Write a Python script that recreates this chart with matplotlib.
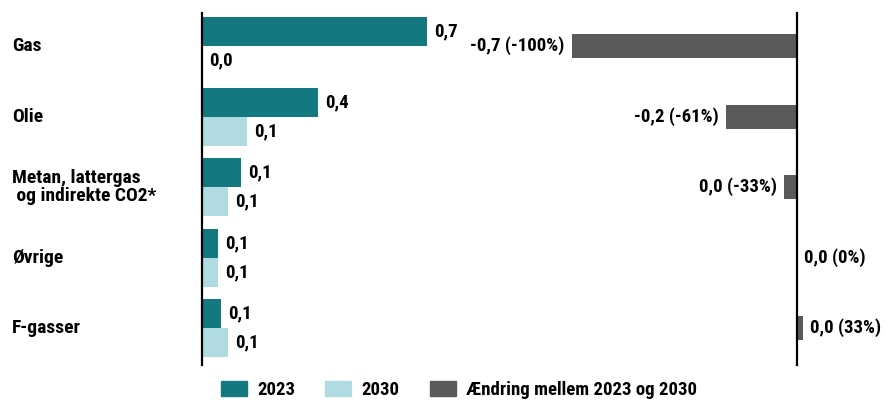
import matplotlib
matplotlib.use("Agg")
import matplotlib.pyplot as plt
from matplotlib import font_manager
from matplotlib.patches import Patch
from matplotlib.transforms import blended_transform_factory

# --- data ---
categories = ["Gas", "Olie", "Metan, lattergas\n og indirekte CO2*", "Øvrige", "F-gasser"]
values_2023 = [0.70, 0.36, 0.12, 0.05, 0.06]
values_2030 = [0.00, 0.14, 0.08, 0.05, 0.08]
legend_labels = ["2023", "2030", "Ændring mellem 2023 og 2030"]

change = [b - a for a, b in zip(values_2023, values_2030)]
change_pct = [(c / a * 100) if a else 0 for c, a in zip(change, values_2023)]

# --- style ---
available = {f.name for f in font_manager.fontManager.ttflist}
for fam in ["Roboto Condensed", "Liberation Sans Narrow", "DejaVu Sans Condensed", "Roboto"]:
    if fam in available:
        FONT = fam
        break
else:
    FONT = "DejaVu Sans"
plt.rcParams["font.family"] = [FONT, "DejaVu Sans"]
plt.rcParams["font.weight"] = "bold"

C2023 = "#137880"
C2030 = "#b0dbe0"
CCHG = "#5a5a5a"
FS = 14.0       # category labels
FSV = 13.5      # value labels

W, H = 886, 400
fig = plt.figure(figsize=(W / 100, H / 100), dpi=100)

PX = 322.0           # pixels per unit
top_px, bot_px = 13, 365
spacing = 70.5
first_c = 46
ylim = ((bot_px - first_c) / spacing, -(first_c - top_px) / spacing)


def axes_at(x0, x1):
    return fig.add_axes([x0 / W, (H - bot_px) / H, (x1 - x0) / W, (bot_px - top_px) / H])


def fmt(v):
    s = f"{round(v, 1) + 0.0:.1f}"
    if s == "-0.0":
        s = "0.0"
    return s.replace(".", ",")


# --- left panel: 2023 and 2030 ---
axL = axes_at(202, 502)
axL.set_xlim(0, 300 / PX)
axL.set_ylim(*ylim)
ypos = list(range(len(categories)))
bh = 29 / spacing
y23 = [y - bh / 2 for y in ypos]
y30 = [y + bh / 2 for y in ypos]
axL.barh(y23, values_2023, height=bh, color=C2023)
axL.barh(y30, values_2030, height=bh, color=C2030)
off = 7 / PX
for y, v in zip(y23, values_2023):
    axL.text(v + off, y, fmt(v), va="center", ha="left", fontsize=FSV)
for y, v in zip(y30, values_2030):
    axL.text(v + off, y, fmt(v), va="center", ha="left", fontsize=FSV)

tr = blended_transform_factory(fig.transFigure, axL.transData)
for y, lab in zip(ypos, categories):
    axL.text(12 / W, y, lab, transform=tr, va="center", ha="left", fontsize=FS,
             linespacing=1.05)

# --- right panel: change ---
axR = axes_at(520, 886)
axR.set_xlim(-(797 - 520) / PX, (886 - 797) / PX)
axR.set_ylim(*ylim)
axR.barh(ypos, change, height=24 / spacing, color=CCHG)
for y, c, p in zip(ypos, change, change_pct):
    lab = f"{fmt(c)} ({p:.0f}%)"
    if c < -0.005:
        axR.text(c - off, y, lab, va="center", ha="right", fontsize=FSV)
    else:
        axR.text(max(c, 0) + off, y, lab, va="center", ha="left", fontsize=FSV)

for ax in (axL, axR):
    for s in ("top", "right", "bottom"):
        ax.spines[s].set_visible(False)
    ax.spines["left"].set_linewidth(1.6)
    ax.spines["left"].set_color("black")
    ax.patch.set_alpha(0)
    ax.set_xticks([])
    ax.set_yticks([])
axR.spines["left"].set_position(("data", 0))

# --- legend ---
handles = [Patch(color=C2023), Patch(color=C2030), Patch(color=CCHG)]
fig.legend(handles, legend_labels, loc="center left", bbox_to_anchor=(213 / W, 10 / H),
           ncol=3, frameon=False, fontsize=FSV, handlelength=1.4, handleheight=0.9,
           handletextpad=0.55, columnspacing=1.6, borderaxespad=0)

fig.savefig("out.png", dpi=100)
